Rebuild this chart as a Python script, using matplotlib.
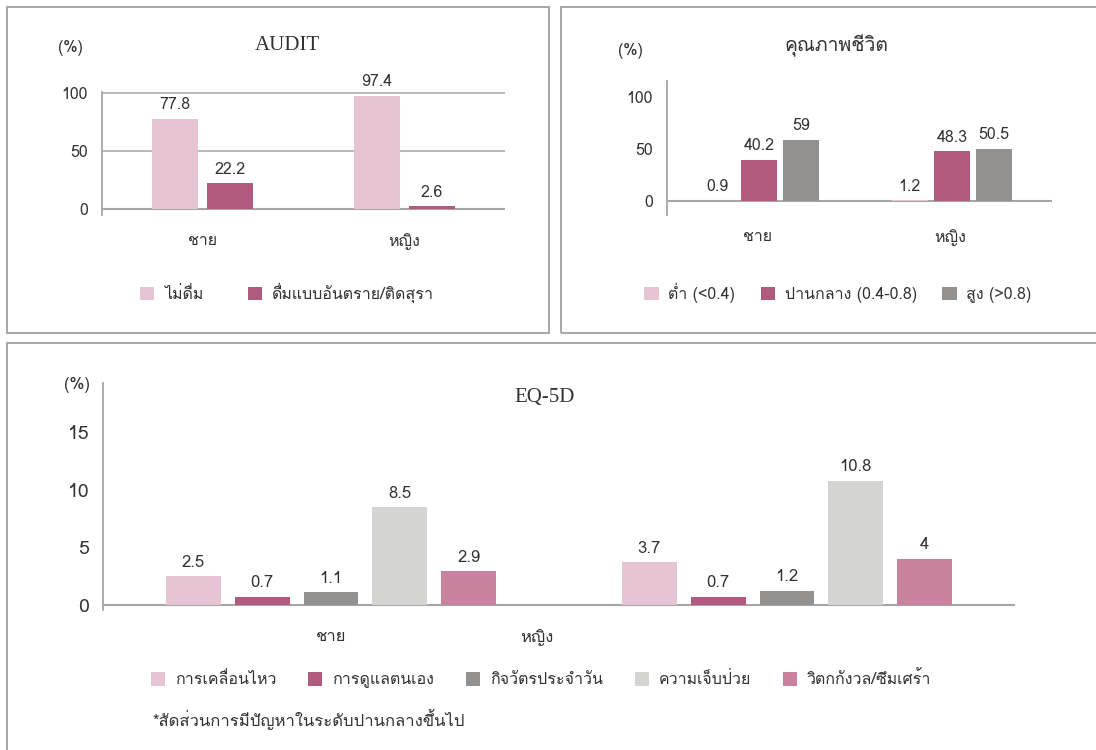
import matplotlib
matplotlib.use('Agg')
import matplotlib.pyplot as plt
import numpy as np
from matplotlib import font_manager
from matplotlib.ft2font import FT2Font
from matplotlib.patches import Rectangle

# data
groups = ['ชาย', 'หญิง']

audit_series = ['ไม่ดื่ม', 'ดื่มแบบอันตราย/ติดสุรา']
audit_no_drink = [77.8, 97.4]
audit_harmful = [22.2, 2.6]

qol_series = ['ต่ำ (<0.4)', 'ปานกลาง (0.4-0.8)', 'สูง (>0.8)']
qol_low = [0.9, 1.2]
qol_mid = [40.2, 48.3]
qol_high = [59, 50.5]

eq_series = ['การเคลื่อนไหว', 'การดูแลตนเอง', 'กิจวัตรประจำวัน',
             'ความเจ็บป่วย', 'วิตกกังวล/ซึมเศร้า']
eq_male = [2.5, 0.7, 1.1, 8.5, 2.9]
eq_female = [3.7, 0.7, 1.2, 10.8, 4]

footnote = '*สัดส่วนการมีปัญหาในระดับปานกลางขึ้นไป'

LIGHT_PINK = '#e6c4d4'
MAUVE = '#b05a7f'
GRAY = '#929190'
LIGHT_GRAY = '#d4d4d2'
PINK = '#c8829e'
TEXT = '#333333'
LINE = '#a6a6a6'


def find_thai_font():
    for f in font_manager.fontManager.ttflist:
        try:
            if 0x0E01 in FT2Font(f.fname).get_charmap():
                return f.name
        except Exception:
            pass
    return None


thai = find_thai_font()
families = [thai, 'DejaVu Sans'] if thai else ['DejaVu Sans']
plt.rcParams['font.family'] = families
SERIF = ['Liberation Serif', 'DejaVu Serif']

W, H = 1096, 750
fig = plt.figure(figsize=(W / 100, H / 100), dpi=100)


def px_axes(left, right, top, bottom):
    return fig.add_axes([left / W, 1 - bottom / H, (right - left) / W, (bottom - top) / H])


def frame(x0, y0, x1, y1):
    fig.patches.append(Rectangle((x0 / W, 1 - y1 / H), (x1 - x0) / W, (y1 - y0) / H,
                                 transform=fig.transFigure, fill=False,
                                 edgecolor='#a0a0a0', linewidth=1.3))


def style_axes(ax, ymin, ymax, ticks, xlim, fs):
    ax.set_ylim(ymin, ymax)
    ax.set_xlim(*xlim)
    ax.set_yticks(ticks)
    ax.tick_params(axis='y', length=0, labelsize=fs, colors=TEXT, pad=10)
    ax.tick_params(axis='x', length=0, colors=TEXT)
    for s in ['top', 'right', 'bottom']:
        ax.spines[s].set_visible(False)
    ax.spines['left'].set_color(LINE)
    ax.spines['left'].set_linewidth(1.3)
    ax.axhline(0, color=LINE, linewidth=1.5, zorder=1)
    ax.set_facecolor('none')


def label_bars(ax, bars, values, fs):
    for b, v in zip(bars, values):
        ax.annotate(f'{v:g}', (b.get_x() + b.get_width() / 2, v),
                    xytext=(0, 4), textcoords='offset points',
                    ha='center', va='bottom', fontsize=fs, color=TEXT)


x = np.arange(len(groups))

# AUDIT panel
frame(7, 7, 549, 333)
ax1 = px_axes(102, 505, 92, 215)
style_axes(ax1, -5, 100.8, [0, 50, 100], (-0.5, 1.5), 11.5)
for g in [50, 100]:
    ax1.axhline(g, color=LINE, linewidth=1.1, zorder=0)
w1, s1 = 0.228, 0.273
audit_vals = [audit_no_drink, audit_harmful]
audit_cols = [LIGHT_PINK, MAUVE]
for i, (vals, col, name) in enumerate(zip(audit_vals, audit_cols, audit_series)):
    bars = ax1.bar(x + (i - 0.5) * s1, vals, w1, color=col, label=name, zorder=2)
    label_bars(ax1, bars, vals, 11.5)
ax1.set_xticks(x)
ax1.set_xticklabels(groups, fontsize=11.5)
ax1.tick_params(axis='x', pad=13)
ax1.legend(loc='center', bbox_to_anchor=(287 / W, 1 - 293 / H), bbox_transform=fig.transFigure,
           ncol=2, frameon=False, fontsize=11.5, handlelength=0.9, handleheight=0.9,
           columnspacing=2.8, handletextpad=0.6, labelcolor=TEXT)
fig.text(287 / W, 1 - 45 / H, 'AUDIT', ha='center', va='center', fontsize=15,
         family=SERIF, color=TEXT)
fig.text(70 / W, 1 - 48 / H, '(%)', ha='center', va='center', fontsize=11.5, color=TEXT)

# quality of life panel
frame(561, 7, 1110, 333)
ax2 = px_axes(667, 1052, 81, 215)
style_axes(ax2, -13, 115.5, [0, 50, 100], (-0.5, 1.5), 11.5)
w2, s2 = 0.187, 0.218
qol_vals = [qol_low, qol_mid, qol_high]
qol_cols = [LIGHT_PINK, MAUVE, GRAY]
for i, (vals, col, name) in enumerate(zip(qol_vals, qol_cols, qol_series)):
    bars = ax2.bar(x - 0.02 + (i - 1) * s2, vals, w2, color=col, label=name, zorder=2)
    label_bars(ax2, bars, vals, 11.5)
ax2.set_xticks(x - 0.03)
ax2.set_xticklabels(groups, fontsize=11.5)
ax2.tick_params(axis='x', pad=10)
ax2.legend(loc='center', bbox_to_anchor=(838 / W, 1 - 293 / H), bbox_transform=fig.transFigure,
           ncol=3, frameon=False, fontsize=11.5, handlelength=0.9, handleheight=0.9,
           columnspacing=1.6, handletextpad=0.6, labelcolor=TEXT)
fig.text(836 / W, 1 - 46 / H, 'คุณภาพชีวิต', ha='center', va='center', fontsize=14, color=TEXT)
fig.text(630 / W, 1 - 51 / H, '(%)', ha='center', va='center', fontsize=11.5, color=TEXT)

# EQ-5D panel
frame(7, 343, 1110, 760)
ax3 = px_axes(103, 1015, 383, 610)
style_axes(ax3, -0.45, 19.3, [0, 5, 10, 15], (-0.5, 1.5), 14)
w3, s3 = 0.12, 0.151
eq_cols = [LIGHT_PINK, MAUVE, GRAY, LIGHT_GRAY, PINK]
for i, (col, name) in enumerate(zip(eq_cols, eq_series)):
    vals = [eq_male[i], eq_female[i]]
    bars = ax3.bar(x + (i - 2) * s3, vals, w3, color=col, label=name, zorder=2)
    label_bars(ax3, bars, vals, 12)
ax3.set_xticks([0, 0.452])
ax3.set_xticklabels(groups, fontsize=12)
ax3.tick_params(axis='x', pad=14)
ax3.legend(loc='center', bbox_to_anchor=(541 / W, 1 - 680 / H), bbox_transform=fig.transFigure,
           ncol=5, frameon=False, fontsize=11.5, handlelength=0.9, handleheight=0.9,
           columnspacing=2.0, handletextpad=0.6, labelcolor=TEXT)
fig.text(545 / W, 1 - 398 / H, 'EQ-5D', ha='center', va='center', fontsize=15,
         family=SERIF, color=TEXT)
fig.text(77 / W, 1 - 385 / H, '(%)', ha='center', va='center', fontsize=12, color=TEXT)
fig.text(152 / W, 1 - 720 / H, footnote, ha='left', va='center', fontsize=12, color=TEXT)

fig.savefig('out.png', dpi=100)
